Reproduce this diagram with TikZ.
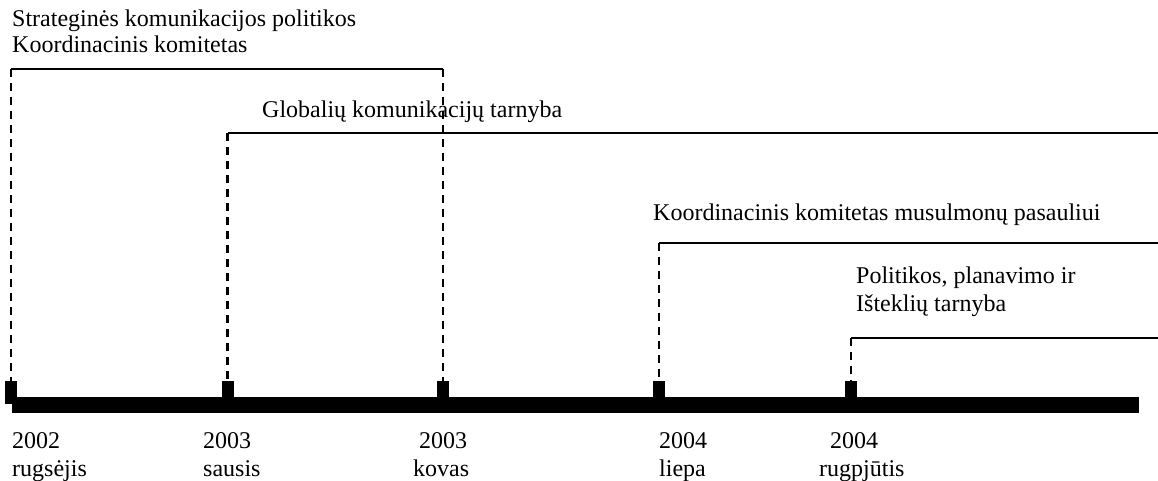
\documentclass[tikz,border=0pt]{standalone}
\usepackage{fontspec}
\setmainfont{Liberation Serif}
\begin{document}
\begin{tikzpicture}[x=1pt,y=-1pt,
  lbl/.style={anchor=base west, inner sep=0pt, font=\fontsize{24}{28}\selectfont},
  tickbox/.style={fill=black, inner sep=0pt, minimum width=12pt, minimum height=19pt},
  guide/.style={line width=2.2pt, dash pattern=on 8pt off 6pt},
  span/.style={line width=2pt}]
\useasboundingbox (0,0) rectangle (1158,481);
% time axis
\fill (12,397) rectangle (1139,413);
\node[tickbox, minimum height=23pt] (t1) at (11,392.5) {};
\node[tickbox] (t2) at (227.5,390.5) {};
\node[tickbox] (t3) at (443,390.5) {};
\node[tickbox] (t4) at (659,390.5) {};
\node[tickbox] (t5) at (851,390.5) {};
% spans
\coordinate (a1) at (11,69);
\coordinate (a2) at (443,69);
\coordinate (b1) at (227.5,133);
\coordinate (b2) at (1158,133);
\coordinate (c1) at (659,243);
\coordinate (c2) at (1158,243);
\coordinate (d1) at (851,338);
\coordinate (d2) at (1158,338);
\draw[span] (a1) -- (a2);
\draw[span] (b1) -- (b2);
\draw[span] (c1) -- (c2);
\draw[span] (d1) -- (d2);
\draw[guide] (a1) -- (t1.north);
\draw[guide] (a2) -- (t3.north);
\draw[guide] (b1) -- (t2.north);
\draw[guide] (c1) -- (t4.north);
\draw[guide] (d1) -- (t5.north);
% span labels
\node[lbl] (s1) at (12,27) {Strateginės komunikacijos politikos};
\node[lbl] (s2) at (12,53) {Koordinacinis komitetas};
\node[lbl] (g1) at (262,118) {Globalių komunikacijų tarnyba};
\node[lbl] (k1) at (653,220) {Koordinacinis komitetas musulmonų pasauliui};
\node[lbl] (p1) at (856,283) {Politikos, planavimo ir};
\node[lbl] (p2) at (856,311) {Išteklių tarnyba};
% dates
\node[lbl] (y1) at (12,448) {2002};
\node[lbl] (m1) at (12,476) {rugsėjis};
\node[lbl] (y2) at (203,448) {2003};
\node[lbl] (m2) at (203,476) {sausis};
\node[lbl] (y3) at (419,448) {2003};
\node[lbl] (m3) at (413,476) {kovas};
\node[lbl] (y4) at (659,448) {2004};
\node[lbl] (m4) at (659,476) {liepa};
\node[lbl] (y5) at (830,448) {2004};
\node[lbl] (m5) at (819,476) {rugpjūtis};
\end{tikzpicture}
\end{document}
